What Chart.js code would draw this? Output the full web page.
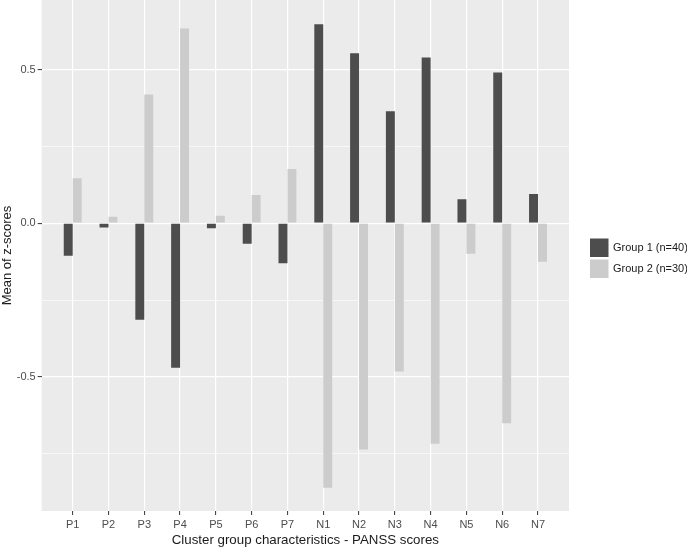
<!DOCTYPE html>
<html>
<head>
<meta charset="utf-8">
<script src="https://cdn.jsdelivr.net/npm/chart.js@4.4.1/dist/chart.umd.min.js"></script>
<style>
html, body { margin: 0; padding: 0; background: #fff; }
#wrap { width: 687px; height: 548px; }
</style>
</head>
<body>
<div id="wrap"><canvas id="myChart" width="687" height="548"></canvas></div>
<script>
var categories = ['P1', 'P2', 'P3', 'P4', 'P5', 'P6', 'P7', 'N1', 'N2', 'N3', 'N4', 'N5', 'N6', 'N7'];
var group1Label = 'Group 1 (n=40)';
var group2Label = 'Group 2 (n=30)';
var group1Values = [-0.106, -0.014, -0.314, -0.470, -0.016, -0.067, -0.130, 0.647, 0.553, 0.364, 0.539, 0.078, 0.490, 0.095];
var group2Values = [0.146, 0.021, 0.419, 0.633, 0.024, 0.092, 0.176, -0.860, -0.736, -0.482, -0.717, -0.099, -0.651, -0.125];
var majorTicks = [-0.5, 0, 0.5];
var majorLabels = ['-0.5', '0.0', '0.5'];
var minorTicks = [-0.75, -0.25, 0.25];

var fontFamily = '"Liberation Sans", Arial, sans-serif';

function toPoints(values) {
    return values.map(function (v, i) { return { x: i, y: v }; });
}

function isMajor(v) {
    return majorTicks.indexOf(v) >= 0;
}

// grey ggplot-like panel behind the grid
var panelPlugin = {
    id: 'panel',
    beforeDraw: function (chart) {
        var a = chart.chartArea, ctx = chart.ctx;
        ctx.save();
        ctx.fillStyle = '#EBEBEB';
        ctx.fillRect(a.left, a.top, a.right - a.left, a.bottom - a.top);
        ctx.restore();
    }
};

// legend on the right, keys stacked
var sideLegend = {
    id: 'sideLegend',
    afterDraw: function (chart) {
        var a = chart.chartArea, ctx = chart.ctx;
        var x = a.right + 21;
        var yMid = (a.top + a.bottom) / 2 + 2.5;
        ctx.save();
        chart.data.datasets.forEach(function (ds, i) {
            var top = yMid - 19.5 + i * 21;
            ctx.fillStyle = ds.backgroundColor;
            ctx.fillRect(x, top, 18.5, 18.5);
            ctx.fillStyle = '#1a1a1a';
            ctx.font = '11px ' + fontFamily;
            ctx.textBaseline = 'middle';
            ctx.textAlign = 'left';
            ctx.fillText(ds.label, x + 23, top + 9.5);
        });
        ctx.restore();
    }
};

var ctx = document.getElementById('myChart').getContext('2d');
var chart = new Chart(ctx, {
    type: 'bar',
    data: {
        datasets: [{
            label: group1Label,
            backgroundColor: '#4D4D4D',
            data: toPoints(group1Values)
        }, {
            label: group2Label,
            backgroundColor: '#CCCCCC',
            data: toPoints(group2Values)
        }]
    },
    options: {
        responsive: false,
        animation: false,
        devicePixelRatio: 1,
        layout: { padding: { top: 0, right: 118, bottom: 0, left: 0 } },
        datasets: { bar: { categoryPercentage: 0.5, barPercentage: 1.0 } },
        plugins: { legend: { display: false }, tooltip: { enabled: false } },
        scales: {
            x: {
                type: 'linear',
                min: -0.866,
                max: 13.866,
                offset: false,
                afterBuildTicks: function (s) {
                    s.ticks = categories.map(function (c, i) { return { value: i }; });
                },
                afterFit: function (s) {
                    s.height = 37;
                    s.paddingLeft = 0;
                    s.paddingRight = 0;
                },
                ticks: {
                    autoSkip: false,
                    maxRotation: 0,
                    padding: 3,
                    color: '#4D4D4D',
                    font: { family: fontFamily, size: 11 },
                    callback: function (v) { return categories[Math.round(v)]; }
                },
                grid: { color: '#FFFFFF', lineWidth: 1.2, tickColor: '#333333', tickLength: 4, tickWidth: 1, offset: false },
                border: { display: false },
                title: {
                    display: true,
                    text: 'Cluster group characteristics - PANSS scores',
                    color: '#1a1a1a',
                    font: { family: fontFamily, size: 13.3 },
                    padding: { top: 0, bottom: 0 }
                }
            },
            y: {
                min: -0.936,
                max: 0.726,
                afterBuildTicks: function (s) {
                    s.ticks = minorTicks.concat(majorTicks).sort(function (a, b) { return a - b; })
                        .map(function (v) { return { value: v }; });
                },
                afterFit: function (s) {
                    s.width = 41.7;
                    s.paddingTop = 0;
                    s.paddingBottom = 0;
                },
                ticks: {
                    autoSkip: false,
                    padding: 2,
                    color: '#4D4D4D',
                    font: { family: fontFamily, size: 11 },
                    callback: function (v) {
                        var k = majorTicks.indexOf(v);
                        return k < 0 ? '' : majorLabels[k];
                    }
                },
                grid: {
                    color: '#FFFFFF',
                    lineWidth: function (c) { return c.tick && isMajor(c.tick.value) ? 1.2 : 0.6; },
                    tickColor: function (c) { return c.tick && isMajor(c.tick.value) ? '#333333' : 'rgba(0,0,0,0)'; },
                    tickLength: 4,
                    tickWidth: 1
                },
                border: { display: false },
                title: {
                    display: true,
                    text: 'Mean of z-scores',
                    color: '#1a1a1a',
                    font: { family: fontFamily, size: 13 },
                    padding: 0
                }
            }
        }
    },
    plugins: [panelPlugin, sideLegend]
});
</script>
</body>
</html>
